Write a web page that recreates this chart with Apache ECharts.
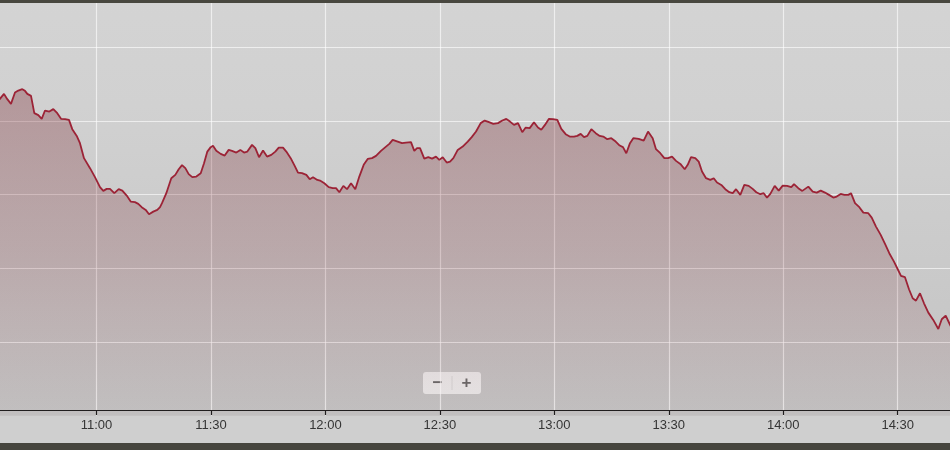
<!DOCTYPE html>
<html>
<head>
<meta charset="utf-8">
<script src="https://cdn.jsdelivr.net/npm/echarts@6/dist/echarts.min.js"></script>
<style>html,body{margin:0;padding:0;background:#cfcfcf;}#c{width:950px;height:450px;}</style>
</head>
<body>
<div id="c"></div>
<script>
const times = ["10:34:15","10:34:42","10:35:45","10:36:37","10:37:35","10:38:38","10:39:30","10:40:33","10:41:15","10:41:52","10:42:50",
"10:43:42","10:44:45","10:45:38","10:46:30","10:47:38","10:48:41","10:49:43","10:50:42","10:51:45","10:52:47",
"10:53:39","10:54:49","10:55:40","10:56:43","10:58:18","10:59:36","11:00:55","11:01:47","11:02:40","11:03:32",
"11:04:40","11:05:49","11:06:46","11:07:55","11:08:58","11:10:05","11:10:57","11:11:51","11:12:54","11:13:46",
"11:14:53","11:15:56","11:16:39","11:17:10","11:18:18","11:19:36","11:20:39","11:21:33","11:22:25","11:23:17",
"11:24:10","11:25:07","11:26:10","11:27:19","11:28:11","11:29:03","11:29:56","11:30:32","11:31:24","11:32:33",
"11:33:36","11:34:39","11:35:31","11:36:39","11:37:42","11:38:40","11:39:32","11:40:46","11:41:38","11:42:36",
"11:43:39","11:44:42","11:45:49","11:46:52","11:47:46","11:48:53","11:49:45","11:50:54","11:51:57","11:52:49",
"11:53:52","11:55:00","11:55:53","11:56:45","11:57:53","11:58:35","11:59:43","12:00:52","12:01:55","12:02:47",
"12:03:39","12:04:42","12:05:40","12:06:43","12:07:50","12:08:53","12:10:02","12:11:05","12:12:13","12:13:16",
"12:14:34","12:15:53","12:16:45","12:17:38","12:18:57","12:20:05","12:21:08","12:22:26","12:23:18","12:24:01",
"12:24:48","12:25:55","12:26:58","12:27:57","12:28:59","12:29:51","12:30:45","12:31:48","12:32:40","12:33:32",
"12:34:41","12:35:59","12:37:18","12:38:21","12:39:29","12:40:42","12:41:45","12:42:53","12:44:00","12:45:14",
"12:46:22","12:47:25","12:48:23","12:49:26","12:50:29","12:51:36","12:52:30","12:53:33","12:54:40","12:55:43",
"12:56:35","12:57:33","12:58:36","12:59:39","13:00:47","13:01:50","13:02:59","13:04:02","13:05:10","13:06:01",
"13:06:55","13:07:47","13:08:39","13:09:42","13:10:51","13:11:54","13:12:50","13:13:53","13:14:56","13:16:05",
"13:17:08","13:18:00","13:18:52","13:19:50","13:20:42","13:22:07","13:23:26","13:24:34","13:25:47","13:26:39",
"13:27:47","13:28:50","13:29:48","13:30:51","13:31:54","13:33:02","13:34:11","13:34:58","13:35:50","13:36:57",
"13:37:51","13:38:43","13:39:46","13:40:53","13:41:47","13:42:39","13:43:46","13:44:49","13:45:52","13:46:46",
"13:47:38","13:48:45","13:49:48","13:50:57","13:52:00","13:52:57","13:54:00","13:54:53","13:55:45","13:56:37",
"13:57:46","13:58:49","13:59:52","14:01:00","14:02:07","14:02:50","14:03:57","14:05:00","14:06:35","14:07:44",
"14:08:47","14:09:50","14:10:57","14:12:00","14:13:08","14:14:01","14:15:04","14:16:01","14:17:04","14:17:46",
"14:18:49","14:19:57","14:21:00","14:22:18","14:23:12","14:24:19","14:25:33","14:26:41","14:27:48","14:29:02",
"14:30:01","14:30:52","14:31:55","14:32:58","14:33:56","14:34:48","14:35:51","14:36:54","14:38:02","14:39:20",
"14:40:39","14:41:33","14:42:35","14:43:32","14:44:30"];
const values = [103.27,103.284,103.365,103.293,103.229,103.383,103.410,103.429,103.406,103.365,103.338,
103.103,103.076,103.026,103.139,103.125,103.158,103.103,103.026,103.022,103.012,
102.886,102.795,102.696,102.493,102.357,102.235,102.099,102.049,102.076,102.076,
102.018,102.072,102.053,101.985,101.904,101.896,101.873,101.828,101.791,101.733,
101.768,101.791,101.828,101.882,102.018,102.221,102.266,102.343,102.398,102.357,
102.276,102.235,102.243,102.289,102.425,102.582,102.642,102.660,102.592,102.551,
102.528,102.605,102.592,102.569,102.605,102.569,102.582,102.673,102.628,102.506,
102.596,102.514,102.537,102.582,102.636,102.636,102.582,102.493,102.388,102.297,
102.289,102.266,102.208,102.235,102.198,102.189,102.153,102.099,102.086,102.086,
102.031,102.117,102.072,102.153,102.072,102.243,102.402,102.483,102.493,102.524,
102.592,102.650,102.687,102.741,102.718,102.696,102.704,102.710,102.592,102.628,
102.628,102.487,102.506,102.487,102.514,102.470,102.506,102.433,102.446,102.493,
102.605,102.650,102.718,102.778,102.854,102.968,103.003,102.981,102.958,102.968,
103.003,103.026,102.989,102.944,102.968,102.845,102.908,102.900,102.981,102.908,
102.877,102.944,103.026,103.022,103.012,102.890,102.818,102.786,102.786,102.795,
102.822,102.778,102.795,102.886,102.832,102.795,102.786,102.750,102.764,102.718,
102.664,102.642,102.560,102.696,102.764,102.755,102.731,102.854,102.764,102.615,
102.560,102.493,102.493,102.514,102.456,102.415,102.343,102.402,102.506,102.493,
102.446,102.311,102.221,102.198,102.221,102.162,102.130,102.072,102.031,102.018,
102.072,101.995,102.130,102.117,102.076,102.031,102.004,102.018,101.958,102.008,
102.117,102.053,102.121,102.117,102.099,102.140,102.086,102.049,102.107,102.039,
102.026,102.053,102.026,101.995,101.958,101.972,102.008,101.995,101.995,102.018,
101.882,101.828,101.754,101.746,101.687,101.565,101.452,101.330,101.204,101.090,
100.986,100.896,100.878,100.715,100.593,100.560,100.661,100.525,100.398,100.299,
100.176,100.308,100.357,100.254,100.15];

function toMin(s){const p=s.split(':').map(Number);return p[0]*60+p[1]+(p[2]||0)/60;}
function fmt(m){const h=Math.floor(m/60), mm=Math.round(m-h*60);return h+':'+(mm<10?'0':'')+mm;}
const seriesData = times.map((t,i)=>[toMin(t), values[i]]);

const chart = echarts.init(document.getElementById('c'), null, {renderer:'canvas'});
chart.setOption({
  backgroundColor:'#cfcfcf',
  animation:false,
  grid:{left:-17.95, right:-4.9, top:-26.7, bottom:34.3, show:true, borderWidth:0,
    outerBoundsMode:'none', containLabel:false,
    backgroundColor:new echarts.graphic.LinearGradient(0,0,0,1,[{offset:0,color:'#d4d4d4'},{offset:0.3,color:'#d1d1d1'},{offset:1,color:'#c3c3c3'}])},
  xAxis:{type:'value', min:630, max:885, interval:30, offset:-5.7,
    axisLine:{show:true,onZero:false,lineStyle:{color:'#1e1e1e',width:1.2}},
    axisTick:{show:true,length:5,lineStyle:{color:'#1e1e1e',width:1.2}},
    axisLabel:{formatter:v=>fmt(v), color:'#353535', fontSize:13, fontFamily:'Liberation Sans, Arial, sans-serif', margin:9, showMinLabel:false, showMaxLabel:false},
    splitLine:{show:true,lineStyle:{color:'rgba(255,255,255,0.62)',width:1.2}}},
  yAxis:{type:'value', min:99, max:105, interval:1,
    axisLine:{show:false}, axisTick:{show:false}, axisLabel:{show:false},
    splitLine:{show:true, showMinLine:false, showMaxLine:false, lineStyle:{color:'rgba(255,255,255,0.62)',width:1.2}}},
  series:[{type:'line', data:seriesData, symbol:'none', smooth:false, clip:true,
    lineStyle:{color:'#9c2336', width:1.8},
    areaStyle:{origin:'start', color:new echarts.graphic.LinearGradient(0,0,0,1,[
      {offset:0,color:'rgba(115,25,35,0.45)'},{offset:0.5,color:'rgba(115,25,35,0.27)'},{offset:1,color:'rgba(115,25,35,0.03)'}])}
  }],
  graphic:[
    {type:'rect', shape:{x:0,y:0,width:950,height:3}, style:{fill:'#48473f'}, z:100},
    {type:'rect', shape:{x:0,y:443,width:950,height:7}, style:{fill:'#46453e'}, z:100},
    {type:'group', left:423, top:372, z:100, children:[
      {type:'rect', shape:{x:0,y:0,width:58,height:22,r:3}, style:{fill:'rgba(245,245,245,0.75)'}},
      {type:'line', shape:{x1:29,y1:4,x2:29,y2:18}, style:{stroke:'rgba(0,0,0,0.08)',lineWidth:1}},
      {type:'text', x:14.5, y:11, style:{text:'−', fill:'#6a6a6a', font:'bold 17px Liberation Sans, Arial, sans-serif', align:'center', verticalAlign:'middle'}},
      {type:'text', x:43.5, y:11, style:{text:'+', fill:'#6a6a6a', font:'bold 17px Liberation Sans, Arial, sans-serif', align:'center', verticalAlign:'middle'}}
    ]}
  ]
});
</script>
</body>
</html>
